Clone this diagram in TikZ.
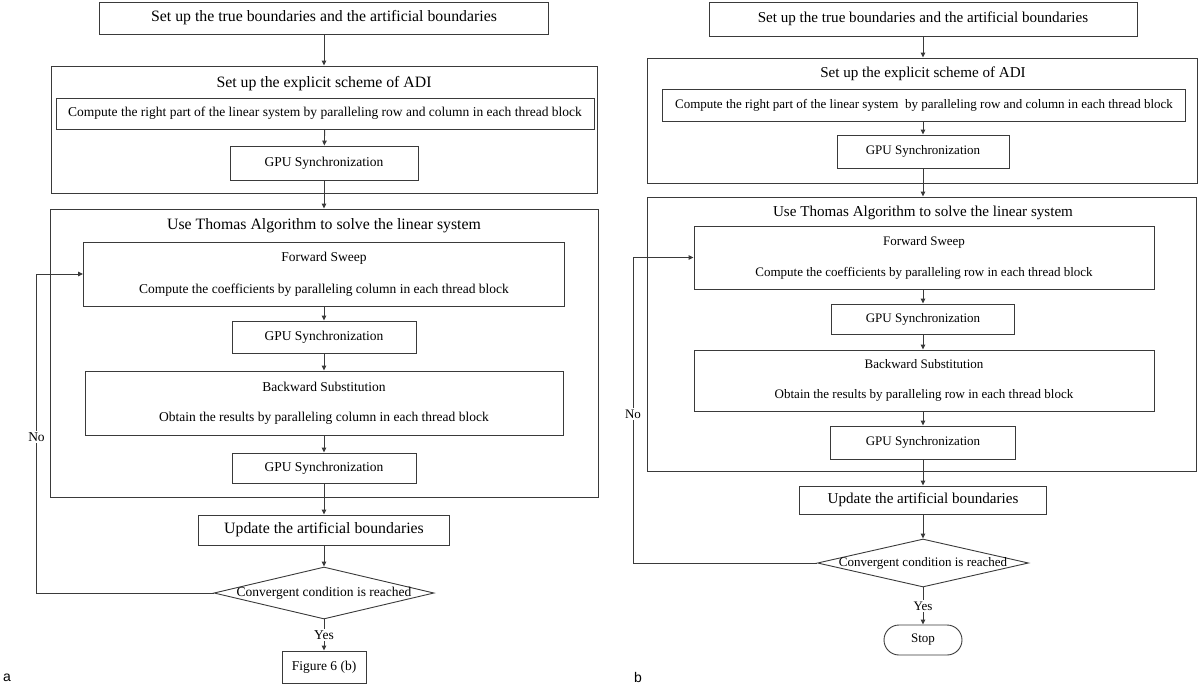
\documentclass[tikz,border=0pt]{standalone}
\usepackage{fontspec}
\setmainfont{Liberation Serif}
\newfontfamily\panelfont{Liberation Sans}
\usetikzlibrary{arrows.meta, positioning, shapes.geometric, calc}
\definecolor{cline}{HTML}{3A3A3A}
\tikzset{
  every picture/.style={line width=0.9pt},
  box/.style={draw=cline, align=center, inner sep=0pt},
  frame/.style={draw=cline, inner sep=0pt},
  decision/.style={diamond, aspect=4.2, draw=cline, inner sep=-4pt, align=center},
  terminal/.style={box, rounded corners=15pt},
  arrow/.style={-{Triangle[length=5pt, width=4.5pt]}, draw=cline, line width=0.9pt},
  txt/.style={font=\fontsize{#1}{16}\selectfont},
  lbl/.style={fill=white, inner sep=1.5pt},
}

\begin{document}
\begin{tikzpicture}[x=1pt, y=-1pt,
    sync/.style={box, txt=#1, minimum height=32pt},
    panel/.style={font=\panelfont\fontsize{14}{14}\selectfont}]
  \useasboundingbox (0,0) rectangle (1200,686);
  % panel a
  \node[box, txt=15.8, minimum width=449pt, minimum height=32pt] (topa) at (324,18) {Set up the true boundaries and the artificial boundaries};
  \node[frame, minimum width=546pt, minimum height=127pt] (adia) at (324,129.5) {};
  \node[txt=15.8] (adita) at (324,84) {Set up the explicit scheme of ADI};
  \node[box, txt=13.5, minimum width=538pt, minimum height=31pt] (compa) at (325,113.5) {Compute the right part of the linear system by paralleling row and column in each thread block};
  \node[sync=13.5, minimum width=188pt, minimum height=34pt] (synca1) at (324,163) {GPU Synchronization};
  \node[frame, minimum width=548pt, minimum height=288pt] (thoma) at (324,353) {};
  \node[txt=15.8] (thomta) at (324,226) {Use Thomas Algorithm to solve the linear system};
  \node[box, txt=13.5, minimum width=481pt, minimum height=64pt] (fwda) at (324,274) {Forward Sweep\\[16pt]Compute the coefficients by paralleling column in each thread block};
  \node[sync=13.5, minimum width=184pt] (synca2) at (324,337) {GPU Synchronization};
  \node[box, txt=13.5, minimum width=478pt, minimum height=64pt] (bwda) at (324,403) {Backward Substitution\\[14pt]Obtain the results by paralleling column in each thread block};
  \node[sync=13.5, minimum width=184pt, minimum height=30pt] (synca3) at (324,468) {GPU Synchronization};
  \node[box, txt=15.8, minimum width=251pt, minimum height=30pt] (upda) at (324,530) {Update the artificial boundaries};
  \node[decision, txt=13.5, minimum width=220pt, minimum height=52pt] (conva) at (324,593) {Convergent condition is reached};
  \node[box, txt=13.5, minimum width=84pt, minimum height=32pt] (figa) at (324,667) {Figure 6 (b)};
  \coordinate (loopa) at (36.5,593);
  \draw[arrow] (topa) -- (adia);
  \draw[arrow] (compa) -- (synca1);
  \draw[arrow] (synca1) -- (thoma.north);
  \draw[arrow] (fwda) -- (synca2);
  \draw[arrow] (synca2) -- (bwda);
  \draw[arrow] (bwda) -- (synca3);
  \draw[arrow] (synca3) -- (upda);
  \draw[arrow] (upda) -- (conva);
  \draw[arrow] (conva) -- (figa);
  \draw[arrow] (conva.west) -- (loopa) |- (fwda.west);
  \node[lbl, txt=13.5] (yesa) at (324,635) {Yes};
  \node[lbl, txt=13.5] (noa) at (36.5,437) {No};
  \node[panel] (laba) at (7,678) {a};
  % panel b
  \node[box, txt=15.1, minimum width=428pt, minimum height=34pt] (topb) at (923,19) {Set up the true boundaries and the artificial boundaries};
  \node[frame, minimum width=550pt, minimum height=125pt] (adib) at (922,120.5) {};
  \node[txt=15.1] (adibt) at (923,74) {Set up the explicit scheme of ADI};
  \node[box, txt=13, minimum width=523pt, minimum height=32pt] (compb) at (924,105) {Compute the right part of the linear system~ by paralleling row and column in each thread block};
  \node[sync=13, minimum width=172pt, minimum height=33pt] (syncb1) at (923,151.5) {GPU Synchronization};
  \node[frame, minimum width=549pt, minimum height=274pt] (thomb) at (922,334) {};
  \node[txt=15.1] (thombt) at (923,213) {Use Thomas Algorithm to solve the linear system};
  \node[box, txt=13, minimum width=460pt, minimum height=63pt] (fwdb) at (924,257.5) {Forward Sweep\\[15pt]Compute the coefficients by paralleling row in each thread block};
  \node[sync=13, minimum width=183pt, minimum height=30pt] (syncb2) at (923,319) {GPU Synchronization};
  \node[box, txt=13, minimum width=460pt, minimum height=61pt] (bwdb) at (924,380.5) {Backward Substitution\\[14pt]Obtain the results by paralleling row in each thread block};
  \node[sync=13, minimum width=185pt, minimum height=33pt] (syncb3) at (923,442.5) {GPU Synchronization};
  \node[box, txt=15.1, minimum width=247pt, minimum height=28pt] (updb) at (923,500) {Update the artificial boundaries};
  \node[decision, txt=13, minimum width=211pt, minimum height=48pt] (convb) at (923,563) {Convergent condition is reached};
  \node[terminal, txt=13, minimum width=78pt, minimum height=30pt] (stopb) at (923,640) {Stop};
  \coordinate (loopb) at (633,563);
  \draw[arrow] (topb) -- (topb.south |- adib.north);
  \draw[arrow] (compb.south -| syncb1) -- (syncb1);
  \draw[arrow] (syncb1) -- (syncb1.south |- thomb.north);
  \draw[arrow] (fwdb.south -| syncb2) -- (syncb2);
  \draw[arrow] (syncb2) -- (syncb2.south |- bwdb.north);
  \draw[arrow] (bwdb.south -| syncb3) -- (syncb3);
  \draw[arrow] (syncb3) -- (updb);
  \draw[arrow] (updb) -- (convb);
  \draw[arrow] (convb) -- (stopb);
  \draw[arrow] (convb.west) -- (loopb) |- (fwdb.west);
  \node[lbl, txt=13] (yesb) at (923,606) {Yes};
  \node[lbl, txt=13] (nob) at (633,414) {No};
  \node[panel] (labb) at (638,677) {b};
\end{tikzpicture}
\end{document}
